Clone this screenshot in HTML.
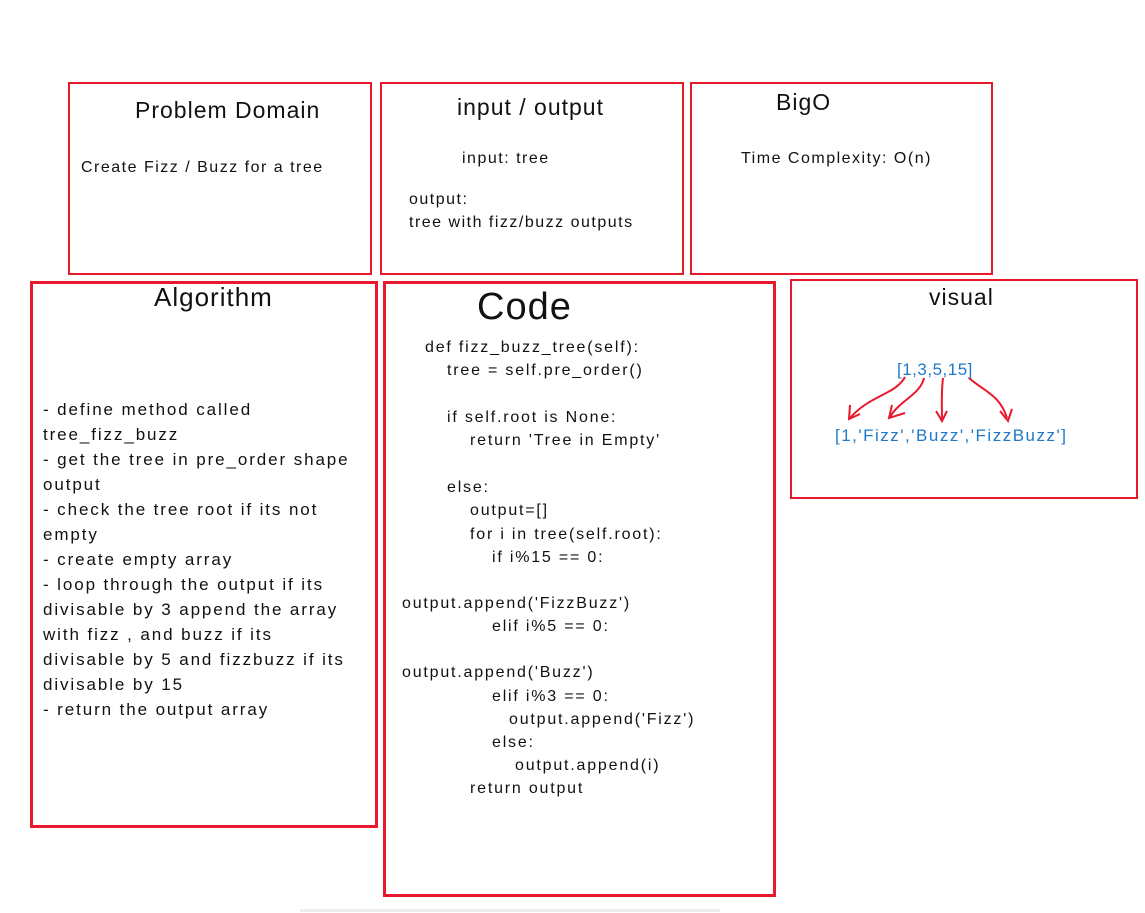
<!DOCTYPE html>
<html><head><meta charset="utf-8"><style>
body{margin:0;width:1145px;height:913px;background:#fff;position:relative;overflow:hidden;font-family:"Liberation Sans",sans-serif;color:#111}
.b{position:absolute;border:2px solid #e8192c;box-sizing:border-box}
.t{position:absolute;white-space:nowrap;font-size:16px;line-height:16px;letter-spacing:1.5px}
.h{font-size:23px;line-height:23px;letter-spacing:1px}
.bl{color:#1f78c8}
.c{position:absolute;white-space:nowrap;font-size:16px;line-height:16px;letter-spacing:1.8px}
</style></head><body>
<div class="b" style="left:68px;top:82px;width:304px;height:193px"></div>
<div class="b" style="left:380px;top:82px;width:304px;height:193px"></div>
<div class="b" style="left:690px;top:82px;width:303px;height:193px"></div>
<div class="b" style="left:30px;top:281px;width:348px;height:547px;border-width:3px"></div>
<div class="b" style="left:383px;top:281px;width:393px;height:616px;border-width:3px"></div>
<div class="b" style="left:790px;top:279px;width:348px;height:220px"></div>
<div style="position:absolute;left:300px;top:909px;width:420px;height:3px;background:#eee"></div>

<div class="t h" style="left:135px;top:99px">Problem Domain</div>
<div class="t" style="left:81px;top:160px">Create Fizz / Buzz for a tree</div>
<div class="t h" style="left:457px;top:96px">input / output</div>
<div class="t" style="left:462px;top:151px">input: tree</div>
<div class="t" style="left:409px;top:192px">output:</div>
<div class="t" style="left:409px;top:215px">tree with fizz/buzz outputs</div>
<div class="t h" style="left:776px;top:91px">BigO</div>
<div class="t" style="left:741px;top:151px">Time Complexity: O(n)</div>

<div class="t h" style="left:154px;top:286px;font-size:26px">Algorithm</div>
<div class="t" style="left:43px;top:397px;line-height:25px;font-size:17px;letter-spacing:1.9px">- define method called<br>tree_fizz_buzz<br>- get the tree in pre_order shape<br>output<br>- check the tree root if its not<br>empty<br>- create empty array<br>- loop through the output if its<br>divisable by 3 append the array<br>with fizz , and buzz if its<br>divisable by 5 and fizzbuzz if its<br>divisable by 15<br>- return the output array</div>

<div class="t" style="left:477px;top:288px;font-size:38px;line-height:38px;letter-spacing:1px">Code</div>
<div class="c" style="left:425px;top:340px">def fizz_buzz_tree(self):</div>
<div class="c" style="left:447px;top:363px">tree = self.pre_order()</div>
<div class="c" style="left:447px;top:410px">if self.root is None:</div>
<div class="c" style="left:470px;top:433px">return 'Tree in Empty'</div>
<div class="c" style="left:447px;top:480px">else:</div>
<div class="c" style="left:470px;top:503px">output=[]</div>
<div class="c" style="left:470px;top:527px">for i in tree(self.root):</div>
<div class="c" style="left:492px;top:550px">if i%15 == 0:</div>
<div class="c" style="left:402px;top:596px">output.append('FizzBuzz')</div>
<div class="c" style="left:492px;top:619px">elif i%5 == 0:</div>
<div class="c" style="left:402px;top:665px">output.append('Buzz')</div>
<div class="c" style="left:492px;top:689px">elif i%3 == 0:</div>
<div class="c" style="left:509px;top:712px">output.append('Fizz')</div>
<div class="c" style="left:492px;top:735px">else:</div>
<div class="c" style="left:515px;top:758px">output.append(i)</div>
<div class="c" style="left:470px;top:781px">return output</div>

<div class="t h" style="left:929px;top:286px">visual</div>
<div class="t bl" style="left:897px;top:362px;font-size:17px;letter-spacing:0.5px">[1,3,5,15]</div>
<div class="t bl" style="left:835px;top:428px;font-size:17px;letter-spacing:1.5px">[1,'Fizz','Buzz','FizzBuzz']</div>
<svg style="position:absolute;left:0;top:0" width="1145" height="913" fill="none" stroke="#e8192c" stroke-width="2">
<path d="M905 377 C895 395 870 395 850 418"/><path d="M850 405 L849 419 L860 414"/>
<path d="M924 378 C920 395 900 400 890 417"/><path d="M892 405 L889 418 L905 413"/>
<path d="M943 378 C941 395 942 405 942 420"/><path d="M936 411 L942 421 L947 411"/>
<path d="M969 378 C985 392 1000 395 1007 418"/><path d="M1000 411 L1008 421 L1012 409"/>
</svg>
</body></html>
